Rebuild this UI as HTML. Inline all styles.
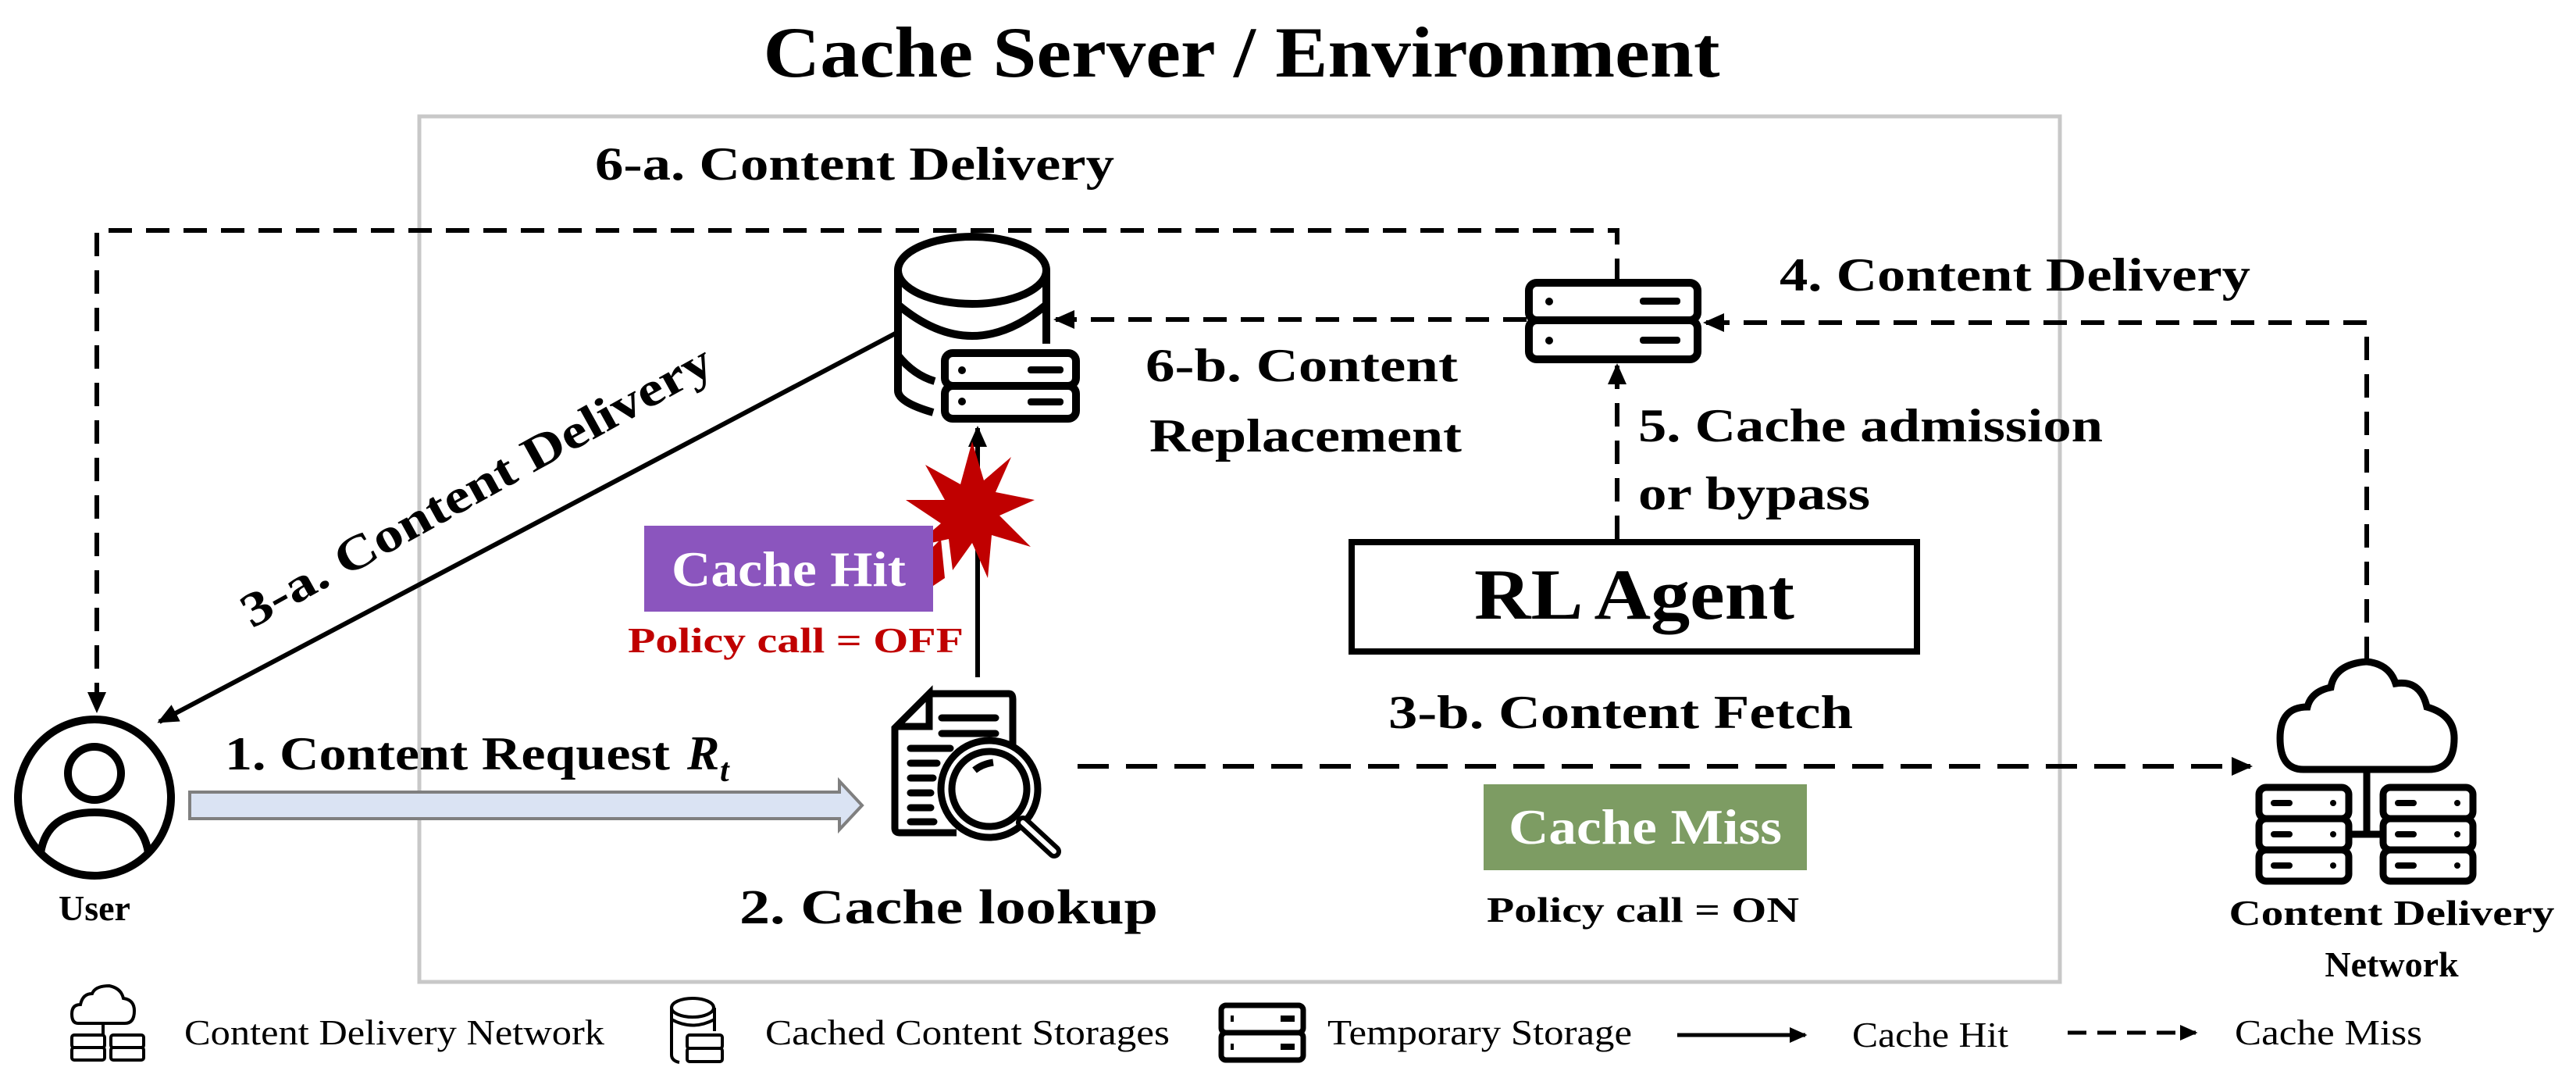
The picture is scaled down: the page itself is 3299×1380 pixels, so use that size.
<!DOCTYPE html>
<html><head><meta charset="utf-8"><style>
html,body{margin:0;padding:0;background:#fff;}
svg{display:block;}
text{font-family:"Liberation Serif",serif;}
</style></head><body>
<svg width="3299" height="1380" viewBox="0 0 3299 1380" xmlns="http://www.w3.org/2000/svg">
<defs>
<marker id="ah" markerWidth="4.5" markerHeight="4" refX="4" refY="2" orient="auto" markerUnits="strokeWidth">
<path d="M0,0 L4.5,2 L0,4 Z" fill="#000"/></marker>
</defs>
<rect width="3299" height="1380" fill="#fff"/>
<text x="1590" y="98" font-size="92" font-weight="bold" text-anchor="middle" textLength="1225" lengthAdjust="spacingAndGlyphs">Cache Server / Environment</text>
<rect x="537" y="149" width="2101" height="1108" fill="none" stroke="#c8c8c8" stroke-width="5"/>

<g stroke="#000" stroke-width="6" fill="none">
<path d="M2071,361 V295 H124 V910" stroke-dasharray="30,18" marker-end="url(#ah)"/>
<path d="M1955,409 H1352" stroke-dasharray="30,18" marker-end="url(#ah)"/>
<path d="M3031,845 V413 H2184" stroke-dasharray="30,18" marker-end="url(#ah)"/>
<path d="M2071,690 V468" stroke-dasharray="30,18" marker-end="url(#ah)"/>
<path d="M1380,981 H2882" stroke-dasharray="40,22" marker-end="url(#ah)"/>
<path d="M1152,424 L204,924" marker-end="url(#ah)"/>
<path d="M1252,867 V548" marker-end="url(#ah)"/>
</g>

<g stroke="#000" stroke-width="10" fill="#fff">
<path d="M1150,346 V500 Q1150,515 1195,528" fill="none"/>
<path d="M1340,346 V440" fill="none"/>
<path d="M1150,390 Q1245,470 1340,390" fill="none"/>
<path d="M1150,455 Q1170,480 1197,488" fill="none"/>
<ellipse cx="1245" cy="346" rx="95" ry="43"/>
<rect x="1210" y="452" width="168" height="42" rx="10"/>
<rect x="1210" y="494" width="168" height="42" rx="10"/>
</g>
<g fill="#000"><circle cx="1232" cy="474" r="5"/><circle cx="1232" cy="514" r="5"/>
<rect x="1316" y="469" width="46" height="9" rx="4"/><rect x="1316" y="510" width="46" height="9" rx="4"/></g>

<g stroke="#000" stroke-width="10" fill="#fff">
<rect x="1958" y="362" width="216" height="48" rx="10"/>
<rect x="1958" y="410" width="216" height="50" rx="10"/>
</g>
<g fill="#000"><circle cx="1984" cy="386" r="5"/><circle cx="1984" cy="436" r="5"/>
<rect x="2100" y="381" width="52" height="9" rx="4"/><rect x="2100" y="431" width="52" height="9" rx="4"/></g>

<g stroke="#000" stroke-width="10" fill="none">
<ellipse cx="121" cy="1021" rx="98" ry="100"/>
<circle cx="121" cy="990" r="34"/>
<path d="M52,1092 Q60,1040 121,1040 Q182,1040 190,1092"/>
</g>
<text x="121" y="1178" font-size="46" font-weight="bold" text-anchor="middle">User</text>

<path d="M243,1014 H1075 V1000 L1104,1031 L1075,1062 V1048 H243 Z" fill="#dae3f3" stroke="#7f7f7f" stroke-width="4"/>
<text x="288" y="985" font-size="60" font-weight="bold" textLength="570" lengthAdjust="spacingAndGlyphs">1. Content Request</text>
<text x="880" y="985" font-size="62" font-weight="bold" font-style="italic">R</text>
<text x="922" y="1000" font-size="42" font-weight="bold" font-style="italic">t</text>

<g stroke="#000" stroke-width="9" fill="#fff">
<path d="M1190,888 H1292 Q1297,888 1297,895 V1000 M1225,1066 H1152 Q1146,1066 1146,1060 V932 L1190,888 V930 H1146"/>
<circle cx="1267" cy="1010" r="62"/>
<circle cx="1267" cy="1010" r="48"/>
<path d="M1310,1053 L1350,1090" stroke-width="18" stroke-linecap="round"/>
<path d="M1310,1053 L1350,1090" stroke="#fff" stroke-width="6" stroke-linecap="round"/>
<path d="M1248,986 Q1258,978 1272,976" fill="none"/>
</g>
<g stroke="#000" stroke-width="9" stroke-linecap="round">
<path d="M1206,919 H1275 M1206,939 H1275 M1166,958 H1217 M1166,977 H1200 M1166,996 H1195 M1166,1015 H1192 M1166,1034 H1192 M1166,1052 H1196"/>
</g>
<text x="947" y="1182" font-size="62" font-weight="bold" textLength="536" lengthAdjust="spacingAndGlyphs">2. Cache lookup</text>

<polygon fill="#c00000" points="1245,565 1260,615 1295,585 1275,630 1325,640 1280,660 1320,700 1270,685 1265,740 1245,695 1220,730 1215,690 1170,700 1205,670 1160,640 1210,640 1185,595 1230,620" />
<rect x="825" y="673" width="370" height="110" fill="#8b55be"/>
<polygon fill="#c00000" points="1195,700 1205,690 1210,740 1195,750"/>
<text x="1010" y="750" font-size="64" font-weight="bold" fill="#fff" text-anchor="middle" textLength="300" lengthAdjust="spacingAndGlyphs">Cache Hit</text>
<text x="804" y="835" font-size="46" font-weight="bold" fill="#c00000" textLength="430" lengthAdjust="spacingAndGlyphs">Policy call = OFF</text>

<text transform="translate(620,640) rotate(-29)" x="0" y="0" font-size="62" font-weight="bold" text-anchor="middle" textLength="680" lengthAdjust="spacingAndGlyphs">3-a. Content Delivery</text>

<text x="762" y="230" font-size="60" font-weight="bold" textLength="665" lengthAdjust="spacingAndGlyphs">6-a. Content Delivery</text>
<text x="1467" y="488" font-size="60" font-weight="bold" textLength="400" lengthAdjust="spacingAndGlyphs">6-b. Content</text>
<text x="1472" y="578" font-size="60" font-weight="bold" textLength="400" lengthAdjust="spacingAndGlyphs">Replacement</text>
<text x="2279" y="372" font-size="60" font-weight="bold" textLength="603" lengthAdjust="spacingAndGlyphs">4. Content Delivery</text>
<text x="2098" y="565" font-size="60" font-weight="bold" textLength="595" lengthAdjust="spacingAndGlyphs">5. Cache admission</text>
<text x="2098" y="652" font-size="60" font-weight="bold" textLength="297" lengthAdjust="spacingAndGlyphs">or bypass</text>

<rect x="1731" y="694" width="724" height="140" fill="#fff" stroke="#000" stroke-width="8"/>
<text x="2093" y="792" font-size="92" font-weight="bold" text-anchor="middle" textLength="410" lengthAdjust="spacingAndGlyphs">RL Agent</text>
<text x="1778" y="932" font-size="60" font-weight="bold" textLength="595" lengthAdjust="spacingAndGlyphs">3-b. Content Fetch</text>

<rect x="1900" y="1004" width="414" height="110" fill="#7d9c63"/>
<text x="2107" y="1080" font-size="64" font-weight="bold" fill="#fff" text-anchor="middle" textLength="350" lengthAdjust="spacingAndGlyphs">Cache Miss</text>
<text x="1904" y="1180" font-size="46" font-weight="bold" textLength="400" lengthAdjust="spacingAndGlyphs">Policy call = ON</text>

<g stroke="#000" stroke-width="9" fill="#fff">
<path d="M2950,985 Q2920,985 2920,945 Q2920,905 2955,905 Q2960,885 2985,880 Q2990,850 3031,847 Q3060,850 3068,875 Q3100,870 3108,905 Q3143,915 3143,945 Q3143,985 3110,985 Z"/>
<path d="M3031,985 V1068 M3008,1068 H3052" fill="none"/>
<rect x="2893" y="1008" width="115" height="40" rx="9"/><rect x="2893" y="1048" width="115" height="40" rx="9"/><rect x="2893" y="1088" width="115" height="40" rx="9"/>
<rect x="3052" y="1008" width="115" height="40" rx="9"/><rect x="3052" y="1048" width="115" height="40" rx="9"/><rect x="3052" y="1088" width="115" height="40" rx="9"/>
</g>
<g fill="#000">
<rect x="2908" y="1024" width="28" height="8" rx="4"/><rect x="2908" y="1064" width="28" height="8" rx="4"/><rect x="2908" y="1104" width="28" height="8" rx="4"/>
<rect x="3067" y="1024" width="28" height="8" rx="4"/><rect x="3067" y="1064" width="28" height="8" rx="4"/><rect x="3067" y="1104" width="28" height="8" rx="4"/>
<circle cx="2988" cy="1028" r="4"/><circle cx="2988" cy="1068" r="4"/><circle cx="2988" cy="1108" r="4"/>
<circle cx="3147" cy="1028" r="4"/><circle cx="3147" cy="1068" r="4"/><circle cx="3147" cy="1108" r="4"/>
</g>
<text x="3063" y="1184" font-size="46" font-weight="bold" text-anchor="middle" textLength="417" lengthAdjust="spacingAndGlyphs">Content Delivery</text>
<text x="3063" y="1250" font-size="46" font-weight="bold" text-anchor="middle">Network</text>

<g stroke="#000" stroke-width="4" fill="#fff">
<path d="M100,1310 Q92,1310 92,1298 Q92,1286 103,1286 Q106,1272 118,1272 Q122,1262 140,1262 Q155,1265 158,1278 Q172,1280 172,1294 Q172,1310 160,1310 Z"/>
<path d="M132,1310 V1348"/>
<rect x="92" y="1325" width="42" height="16" rx="3"/><rect x="92" y="1341" width="42" height="16" rx="3"/>
<rect x="142" y="1325" width="42" height="16" rx="3"/><rect x="142" y="1341" width="42" height="16" rx="3"/>
<path d="M860,1290 V1350 Q860,1358 870,1360 M915,1290 V1320"/>
<ellipse cx="887" cy="1290" rx="27" ry="12"/>
<path d="M860,1305 Q887,1320 915,1305" fill="none"/>
<rect x="880" y="1325" width="45" height="17" rx="3"/><rect x="880" y="1342" width="45" height="17" rx="3"/>
<rect x="1564" y="1287" width="105" height="35" rx="6" stroke-width="7"/><rect x="1564" y="1322" width="105" height="35" rx="6" stroke-width="7"/>
</g>
<g fill="#000"><rect x="1640" y="1300" width="18" height="8"/><rect x="1640" y="1336" width="18" height="8"/><rect x="1576" y="1300" width="4" height="8"/><rect x="1576" y="1336" width="4" height="8"/></g>
<g font-size="46" fill="#000">
<text x="236" y="1337" textLength="538" lengthAdjust="spacingAndGlyphs">Content Delivery  Network</text>
<text x="980" y="1337" textLength="518" lengthAdjust="spacingAndGlyphs">Cached Content Storages</text>
<text x="1700" y="1337" textLength="390" lengthAdjust="spacingAndGlyphs">Temporary Storage</text>
<text x="2372" y="1340" textLength="200" lengthAdjust="spacingAndGlyphs">Cache Hit</text>
<text x="2862" y="1337" textLength="240" lengthAdjust="spacingAndGlyphs">Cache Miss</text>
</g>
<g stroke="#000" stroke-width="5">
<path d="M2148,1325 H2312" marker-end="url(#ah)"/>
<path d="M2648,1322 H2812" stroke-dasharray="24,14" marker-end="url(#ah)"/>
</g>
</svg>
</body></html>
